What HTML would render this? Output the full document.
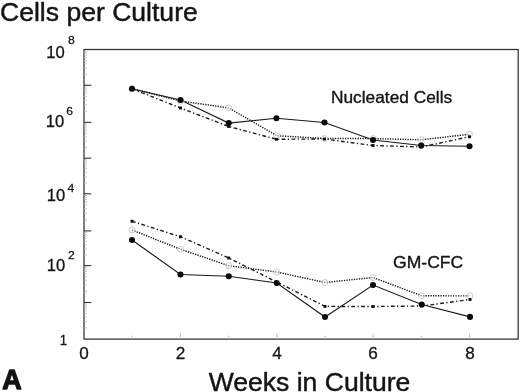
<!DOCTYPE html>
<html><head><meta charset="utf-8"><title>Cells per Culture</title>
<style>html,body{margin:0;padding:0;background:#fff;}body{width:520px;height:392px;overflow:hidden;}svg{display:block;}text{font-family:"Liberation Sans",sans-serif;fill:#141414;stroke:#141414;stroke-linejoin:round;}</style>
</head><body>
<svg width="520" height="392" viewBox="0 0 520 392" style="will-change:transform">
<rect x="0" y="0" width="520" height="392" fill="#ffffff"/>
<g opacity="0.999">
<rect x="84.0" y="49.5" width="434.20" height="289.6" fill="none" stroke="#303030" stroke-width="1.25"/>
<line x1="84.0" y1="328.08" x2="87.0" y2="328.08" stroke="#b8b8b8" stroke-width="0.8"/>
<line x1="84.0" y1="321.64" x2="87.0" y2="321.64" stroke="#b8b8b8" stroke-width="0.8"/>
<line x1="84.0" y1="317.06" x2="87.0" y2="317.06" stroke="#b8b8b8" stroke-width="0.8"/>
<line x1="84.0" y1="313.52" x2="87.0" y2="313.52" stroke="#b8b8b8" stroke-width="0.8"/>
<line x1="84.0" y1="310.62" x2="87.0" y2="310.62" stroke="#b8b8b8" stroke-width="0.8"/>
<line x1="84.0" y1="308.17" x2="87.0" y2="308.17" stroke="#b8b8b8" stroke-width="0.8"/>
<line x1="84.0" y1="306.05" x2="87.0" y2="306.05" stroke="#b8b8b8" stroke-width="0.8"/>
<line x1="84.0" y1="304.17" x2="87.0" y2="304.17" stroke="#b8b8b8" stroke-width="0.8"/>
<line x1="84.0" y1="302.50" x2="91.3" y2="302.50" stroke="#333" stroke-width="1.1"/>
<line x1="84.0" y1="291.39" x2="87.0" y2="291.39" stroke="#b8b8b8" stroke-width="0.8"/>
<line x1="84.0" y1="284.89" x2="87.0" y2="284.89" stroke="#b8b8b8" stroke-width="0.8"/>
<line x1="84.0" y1="280.28" x2="87.0" y2="280.28" stroke="#b8b8b8" stroke-width="0.8"/>
<line x1="84.0" y1="276.71" x2="87.0" y2="276.71" stroke="#b8b8b8" stroke-width="0.8"/>
<line x1="84.0" y1="273.79" x2="87.0" y2="273.79" stroke="#b8b8b8" stroke-width="0.8"/>
<line x1="84.0" y1="271.32" x2="87.0" y2="271.32" stroke="#b8b8b8" stroke-width="0.8"/>
<line x1="84.0" y1="269.18" x2="87.0" y2="269.18" stroke="#b8b8b8" stroke-width="0.8"/>
<line x1="84.0" y1="267.29" x2="87.0" y2="267.29" stroke="#b8b8b8" stroke-width="0.8"/>
<line x1="84.0" y1="265.60" x2="91.3" y2="265.60" stroke="#333" stroke-width="1.1"/>
<line x1="84.0" y1="255.15" x2="87.0" y2="255.15" stroke="#b8b8b8" stroke-width="0.8"/>
<line x1="84.0" y1="249.04" x2="87.0" y2="249.04" stroke="#b8b8b8" stroke-width="0.8"/>
<line x1="84.0" y1="244.71" x2="87.0" y2="244.71" stroke="#b8b8b8" stroke-width="0.8"/>
<line x1="84.0" y1="241.35" x2="87.0" y2="241.35" stroke="#b8b8b8" stroke-width="0.8"/>
<line x1="84.0" y1="238.60" x2="87.0" y2="238.60" stroke="#b8b8b8" stroke-width="0.8"/>
<line x1="84.0" y1="236.28" x2="87.0" y2="236.28" stroke="#b8b8b8" stroke-width="0.8"/>
<line x1="84.0" y1="234.26" x2="87.0" y2="234.26" stroke="#b8b8b8" stroke-width="0.8"/>
<line x1="84.0" y1="232.49" x2="87.0" y2="232.49" stroke="#b8b8b8" stroke-width="0.8"/>
<line x1="84.0" y1="230.90" x2="91.3" y2="230.90" stroke="#333" stroke-width="1.1"/>
<line x1="84.0" y1="219.73" x2="87.0" y2="219.73" stroke="#b8b8b8" stroke-width="0.8"/>
<line x1="84.0" y1="213.20" x2="87.0" y2="213.20" stroke="#b8b8b8" stroke-width="0.8"/>
<line x1="84.0" y1="208.56" x2="87.0" y2="208.56" stroke="#b8b8b8" stroke-width="0.8"/>
<line x1="84.0" y1="204.97" x2="87.0" y2="204.97" stroke="#b8b8b8" stroke-width="0.8"/>
<line x1="84.0" y1="202.03" x2="87.0" y2="202.03" stroke="#b8b8b8" stroke-width="0.8"/>
<line x1="84.0" y1="199.55" x2="87.0" y2="199.55" stroke="#b8b8b8" stroke-width="0.8"/>
<line x1="84.0" y1="197.40" x2="87.0" y2="197.40" stroke="#b8b8b8" stroke-width="0.8"/>
<line x1="84.0" y1="195.50" x2="87.0" y2="195.50" stroke="#b8b8b8" stroke-width="0.8"/>
<line x1="84.0" y1="193.80" x2="91.3" y2="193.80" stroke="#333" stroke-width="1.1"/>
<line x1="84.0" y1="183.08" x2="87.0" y2="183.08" stroke="#b8b8b8" stroke-width="0.8"/>
<line x1="84.0" y1="176.81" x2="87.0" y2="176.81" stroke="#b8b8b8" stroke-width="0.8"/>
<line x1="84.0" y1="172.37" x2="87.0" y2="172.37" stroke="#b8b8b8" stroke-width="0.8"/>
<line x1="84.0" y1="168.92" x2="87.0" y2="168.92" stroke="#b8b8b8" stroke-width="0.8"/>
<line x1="84.0" y1="166.10" x2="87.0" y2="166.10" stroke="#b8b8b8" stroke-width="0.8"/>
<line x1="84.0" y1="163.71" x2="87.0" y2="163.71" stroke="#b8b8b8" stroke-width="0.8"/>
<line x1="84.0" y1="161.65" x2="87.0" y2="161.65" stroke="#b8b8b8" stroke-width="0.8"/>
<line x1="84.0" y1="159.83" x2="87.0" y2="159.83" stroke="#b8b8b8" stroke-width="0.8"/>
<line x1="84.0" y1="158.20" x2="91.3" y2="158.20" stroke="#333" stroke-width="1.1"/>
<line x1="84.0" y1="147.42" x2="87.0" y2="147.42" stroke="#b8b8b8" stroke-width="0.8"/>
<line x1="84.0" y1="141.12" x2="87.0" y2="141.12" stroke="#b8b8b8" stroke-width="0.8"/>
<line x1="84.0" y1="136.65" x2="87.0" y2="136.65" stroke="#b8b8b8" stroke-width="0.8"/>
<line x1="84.0" y1="133.18" x2="87.0" y2="133.18" stroke="#b8b8b8" stroke-width="0.8"/>
<line x1="84.0" y1="130.34" x2="87.0" y2="130.34" stroke="#b8b8b8" stroke-width="0.8"/>
<line x1="84.0" y1="127.95" x2="87.0" y2="127.95" stroke="#b8b8b8" stroke-width="0.8"/>
<line x1="84.0" y1="125.87" x2="87.0" y2="125.87" stroke="#b8b8b8" stroke-width="0.8"/>
<line x1="84.0" y1="124.04" x2="87.0" y2="124.04" stroke="#b8b8b8" stroke-width="0.8"/>
<line x1="84.0" y1="122.40" x2="91.3" y2="122.40" stroke="#333" stroke-width="1.1"/>
<line x1="84.0" y1="111.23" x2="87.0" y2="111.23" stroke="#b8b8b8" stroke-width="0.8"/>
<line x1="84.0" y1="104.70" x2="87.0" y2="104.70" stroke="#b8b8b8" stroke-width="0.8"/>
<line x1="84.0" y1="100.06" x2="87.0" y2="100.06" stroke="#b8b8b8" stroke-width="0.8"/>
<line x1="84.0" y1="96.47" x2="87.0" y2="96.47" stroke="#b8b8b8" stroke-width="0.8"/>
<line x1="84.0" y1="93.53" x2="87.0" y2="93.53" stroke="#b8b8b8" stroke-width="0.8"/>
<line x1="84.0" y1="91.05" x2="87.0" y2="91.05" stroke="#b8b8b8" stroke-width="0.8"/>
<line x1="84.0" y1="88.90" x2="87.0" y2="88.90" stroke="#b8b8b8" stroke-width="0.8"/>
<line x1="84.0" y1="87.00" x2="87.0" y2="87.00" stroke="#b8b8b8" stroke-width="0.8"/>
<line x1="84.0" y1="85.30" x2="91.3" y2="85.30" stroke="#333" stroke-width="1.1"/>
<line x1="84.0" y1="74.58" x2="87.0" y2="74.58" stroke="#b8b8b8" stroke-width="0.8"/>
<line x1="84.0" y1="68.31" x2="87.0" y2="68.31" stroke="#b8b8b8" stroke-width="0.8"/>
<line x1="84.0" y1="63.87" x2="87.0" y2="63.87" stroke="#b8b8b8" stroke-width="0.8"/>
<line x1="84.0" y1="60.42" x2="87.0" y2="60.42" stroke="#b8b8b8" stroke-width="0.8"/>
<line x1="84.0" y1="57.60" x2="87.0" y2="57.60" stroke="#b8b8b8" stroke-width="0.8"/>
<line x1="84.0" y1="55.21" x2="87.0" y2="55.21" stroke="#b8b8b8" stroke-width="0.8"/>
<line x1="84.0" y1="53.15" x2="87.0" y2="53.15" stroke="#b8b8b8" stroke-width="0.8"/>
<line x1="84.0" y1="51.33" x2="87.0" y2="51.33" stroke="#b8b8b8" stroke-width="0.8"/>
<line x1="132.20" y1="339.1" x2="132.20" y2="335.6" stroke="#bdbdbd" stroke-width="0.9"/>
<line x1="180.40" y1="339.1" x2="180.40" y2="333.1" stroke="#bdbdbd" stroke-width="0.9"/>
<line x1="228.60" y1="339.1" x2="228.60" y2="335.6" stroke="#bdbdbd" stroke-width="0.9"/>
<line x1="276.80" y1="339.1" x2="276.80" y2="333.1" stroke="#bdbdbd" stroke-width="0.9"/>
<line x1="325.00" y1="339.1" x2="325.00" y2="335.6" stroke="#bdbdbd" stroke-width="0.9"/>
<line x1="373.20" y1="339.1" x2="373.20" y2="333.1" stroke="#bdbdbd" stroke-width="0.9"/>
<line x1="421.40" y1="339.1" x2="421.40" y2="335.6" stroke="#bdbdbd" stroke-width="0.9"/>
<line x1="469.60" y1="339.1" x2="469.60" y2="333.1" stroke="#bdbdbd" stroke-width="0.9"/>
<polyline points="132.00,88.75 180.50,101.00 228.75,107.90 276.90,135.75 324.50,138.50 373.00,138.60 421.25,139.80 469.50,134.25" fill="none" stroke="#1a1a1a" stroke-width="1.45" stroke-dasharray="1.3 1.2"/>
<polyline points="132.00,230.00 180.50,249.25 228.75,265.75 276.75,272.00 325.00,282.50 373.00,277.50 421.75,295.80 470.00,295.90" fill="none" stroke="#1a1a1a" stroke-width="1.45" stroke-dasharray="1.3 1.2"/>
<polyline points="132.00,88.75 180.50,108.00 228.75,126.50 276.40,139.25 324.50,139.00 373.00,145.50 421.25,147.00 469.50,136.75" fill="none" stroke="#1a1a1a" stroke-width="1.4" stroke-dasharray="3.8 2.4 1.3 2.4"/>
<polyline points="132.00,221.25 180.50,236.75 228.75,258.00 276.75,282.00 325.00,306.40 373.00,306.50 421.75,306.00 470.00,299.50" fill="none" stroke="#1a1a1a" stroke-width="1.4" stroke-dasharray="3.8 2.4 1.3 2.4"/>
<polyline points="132.00,88.75 180.50,100.00 228.75,123.10 276.40,118.25 324.50,122.50 373.00,140.00 421.25,145.50 469.50,146.25" fill="none" stroke="#1a1a1a" stroke-width="1.1"/>
<polyline points="132.00,240.00 180.50,274.50 228.75,276.25 276.75,283.00 325.00,317.00 373.00,285.00 421.75,304.50 470.00,316.90" fill="none" stroke="#1a1a1a" stroke-width="1.1"/>
<circle cx="132" cy="88.75" r="3" fill="#fff" fill-opacity="0.5" stroke="#b4b4b4" stroke-width="0.65"/>
<circle cx="180.5" cy="101" r="3" fill="#fff" fill-opacity="0.5" stroke="#b4b4b4" stroke-width="0.65"/>
<circle cx="228.75" cy="107.9" r="3" fill="#fff" fill-opacity="0.5" stroke="#b4b4b4" stroke-width="0.65"/>
<circle cx="276.9" cy="135.75" r="3" fill="#fff" fill-opacity="0.5" stroke="#b4b4b4" stroke-width="0.65"/>
<circle cx="324.5" cy="138.5" r="3" fill="#fff" fill-opacity="0.5" stroke="#b4b4b4" stroke-width="0.65"/>
<circle cx="373" cy="138.6" r="3" fill="#fff" fill-opacity="0.5" stroke="#b4b4b4" stroke-width="0.65"/>
<circle cx="421.25" cy="139.8" r="3" fill="#fff" fill-opacity="0.5" stroke="#b4b4b4" stroke-width="0.65"/>
<circle cx="469.5" cy="134.25" r="3" fill="#fff" fill-opacity="0.5" stroke="#b4b4b4" stroke-width="0.65"/>
<circle cx="132" cy="230" r="3" fill="#fff" fill-opacity="0.5" stroke="#b4b4b4" stroke-width="0.65"/>
<circle cx="180.5" cy="249.25" r="3" fill="#fff" fill-opacity="0.5" stroke="#b4b4b4" stroke-width="0.65"/>
<circle cx="228.75" cy="265.75" r="3" fill="#fff" fill-opacity="0.5" stroke="#b4b4b4" stroke-width="0.65"/>
<circle cx="276.75" cy="272" r="3" fill="#fff" fill-opacity="0.5" stroke="#b4b4b4" stroke-width="0.65"/>
<circle cx="325" cy="282.5" r="3" fill="#fff" fill-opacity="0.5" stroke="#b4b4b4" stroke-width="0.65"/>
<circle cx="373" cy="277.5" r="3" fill="#fff" fill-opacity="0.5" stroke="#b4b4b4" stroke-width="0.65"/>
<circle cx="421.75" cy="295.8" r="3" fill="#fff" fill-opacity="0.5" stroke="#b4b4b4" stroke-width="0.65"/>
<circle cx="470" cy="295.9" r="3" fill="#fff" fill-opacity="0.5" stroke="#b4b4b4" stroke-width="0.65"/>
<rect x="130.5" y="87.3" width="3" height="2.9" fill="#111"/>
<rect x="179.0" y="106.55" width="3" height="2.9" fill="#111"/>
<rect x="227.25" y="125.05" width="3" height="2.9" fill="#111"/>
<rect x="274.9" y="137.8" width="3" height="2.9" fill="#111"/>
<rect x="323.0" y="137.55" width="3" height="2.9" fill="#111"/>
<rect x="371.5" y="144.05" width="3" height="2.9" fill="#111"/>
<rect x="419.75" y="145.55" width="3" height="2.9" fill="#111"/>
<rect x="468.0" y="135.3" width="3" height="2.9" fill="#111"/>
<rect x="130.5" y="219.8" width="3" height="2.9" fill="#111"/>
<rect x="179.0" y="235.3" width="3" height="2.9" fill="#111"/>
<rect x="227.25" y="256.55" width="3" height="2.9" fill="#111"/>
<rect x="275.25" y="280.55" width="3" height="2.9" fill="#111"/>
<rect x="323.5" y="304.95" width="3" height="2.9" fill="#111"/>
<rect x="371.5" y="305.05" width="3" height="2.9" fill="#111"/>
<rect x="420.25" y="304.55" width="3" height="2.9" fill="#111"/>
<rect x="468.5" y="298.05" width="3" height="2.9" fill="#111"/>
<circle cx="132" cy="88.75" r="3.05" fill="#0a0a0a"/>
<circle cx="180.5" cy="100" r="3.05" fill="#0a0a0a"/>
<circle cx="228.75" cy="123.1" r="3.05" fill="#0a0a0a"/>
<circle cx="276.4" cy="118.25" r="3.05" fill="#0a0a0a"/>
<circle cx="324.5" cy="122.5" r="3.05" fill="#0a0a0a"/>
<circle cx="373" cy="140" r="3.05" fill="#0a0a0a"/>
<circle cx="421.25" cy="145.5" r="3.05" fill="#0a0a0a"/>
<circle cx="469.5" cy="146.25" r="3.05" fill="#0a0a0a"/>
<circle cx="132" cy="240" r="3.05" fill="#0a0a0a"/>
<circle cx="180.5" cy="274.5" r="3.05" fill="#0a0a0a"/>
<circle cx="228.75" cy="276.25" r="3.05" fill="#0a0a0a"/>
<circle cx="276.75" cy="283" r="3.05" fill="#0a0a0a"/>
<circle cx="325" cy="317" r="3.05" fill="#0a0a0a"/>
<circle cx="373" cy="285" r="3.05" fill="#0a0a0a"/>
<circle cx="421.75" cy="304.5" r="3.05" fill="#0a0a0a"/>
<circle cx="470" cy="316.9" r="3.05" fill="#0a0a0a"/>
<text transform="translate(0.0,20.6) scale(1.0335,1)" font-size="25.7" stroke-width="0.45">Cells per Culture</text>
<text transform="translate(208.7,390.5) scale(1.0214,1)" font-size="26" stroke-width="0.45">Weeks in Culture</text>
<text transform="translate(2.15,389.35) scale(0.956,1)" font-size="28.1" stroke-width="1.3" font-weight="bold">A</text>
<text transform="translate(331.0,103.2) scale(1.062,1)" font-size="16.3" stroke-width="0.35">Nucleated Cells</text>
<text transform="translate(393.1,267.6) scale(1.07,1)" font-size="16.4" stroke-width="0.35">GM-CFC</text>
<text transform="translate(84.0,359.2) scale(1.05,1)" font-size="16.3" stroke-width="0.3" text-anchor="middle">0</text>
<text transform="translate(180.4,359.2) scale(1.05,1)" font-size="16.3" stroke-width="0.3" text-anchor="middle">2</text>
<text transform="translate(276.9,359.2) scale(1.05,1)" font-size="16.3" stroke-width="0.3" text-anchor="middle">4</text>
<text transform="translate(373.1,359.2) scale(1.05,1)" font-size="16.3" stroke-width="0.3" text-anchor="middle">6</text>
<text transform="translate(470.0,359.2) scale(1.05,1)" font-size="16.3" stroke-width="0.3" text-anchor="middle">8</text>
<text transform="translate(64.7,57.6) scale(1.0,1)" font-size="16.6" stroke-width="0.3" text-anchor="end">10</text>
<text transform="translate(68.0,44.4) scale(1.07,1)" font-size="11.4" stroke-width="0.25">8</text>
<text transform="translate(64.3,126.7) scale(1.0,1)" font-size="16.6" stroke-width="0.3" text-anchor="end">10</text>
<text transform="translate(66.2,115.3) scale(1.07,1)" font-size="11.4" stroke-width="0.25">6</text>
<text transform="translate(65.2,200.7) scale(1.0,1)" font-size="16.6" stroke-width="0.3" text-anchor="end">10</text>
<text transform="translate(67.6,191.6) scale(1.07,1)" font-size="11.4" stroke-width="0.25">4</text>
<text transform="translate(65.2,271.3) scale(1.0,1)" font-size="16.6" stroke-width="0.3" text-anchor="end">10</text>
<text transform="translate(68.0,259.0) scale(1.07,1)" font-size="11.4" stroke-width="0.25">2</text>
<text transform="translate(67.2,345.3) scale(0.85,1)" font-size="15.5" stroke-width="0.3" text-anchor="end">1</text>
</g></svg></body></html>
